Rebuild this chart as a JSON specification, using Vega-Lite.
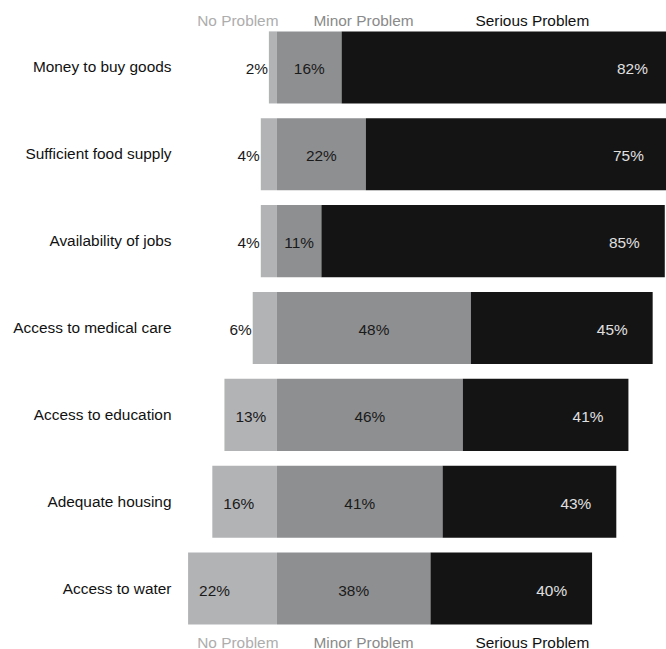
{
  "$schema": "https://vega.github.io/schema/vega-lite/v6.json",
  "autosize": "none",
  "width": 486,
  "height": 608,
  "padding": {"left": 180, "top": 24, "right": 0, "bottom": 17},
  "background": "white",
  "config": {
    "view": {"stroke": null},
    "font": "Liberation Sans",
    "text": {"font": "Liberation Sans", "fontSize": 15.4}
  },
  "data": {
    "values": [
      {"q": "Money to buy goods", "cat": "No Problem", "pct": 2},
      {"q": "Money to buy goods", "cat": "Minor Problem", "pct": 16},
      {"q": "Money to buy goods", "cat": "Serious Problem", "pct": 82},
      {"q": "Sufficient food supply", "cat": "No Problem", "pct": 4},
      {"q": "Sufficient food supply", "cat": "Minor Problem", "pct": 22},
      {"q": "Sufficient food supply", "cat": "Serious Problem", "pct": 75},
      {"q": "Availability of jobs", "cat": "No Problem", "pct": 4},
      {"q": "Availability of jobs", "cat": "Minor Problem", "pct": 11},
      {"q": "Availability of jobs", "cat": "Serious Problem", "pct": 85},
      {"q": "Access to medical care", "cat": "No Problem", "pct": 6},
      {"q": "Access to medical care", "cat": "Minor Problem", "pct": 48},
      {"q": "Access to medical care", "cat": "Serious Problem", "pct": 45},
      {"q": "Access to education", "cat": "No Problem", "pct": 13},
      {"q": "Access to education", "cat": "Minor Problem", "pct": 46},
      {"q": "Access to education", "cat": "Serious Problem", "pct": 41},
      {"q": "Adequate housing", "cat": "No Problem", "pct": 16},
      {"q": "Adequate housing", "cat": "Minor Problem", "pct": 41},
      {"q": "Adequate housing", "cat": "Serious Problem", "pct": 43},
      {"q": "Access to water", "cat": "No Problem", "pct": 22},
      {"q": "Access to water", "cat": "Minor Problem", "pct": 38},
      {"q": "Access to water", "cat": "Serious Problem", "pct": 40}
    ]
  },
  "transform": [
    {"calculate": "datum.cat === 'No Problem' ? 0 : datum.cat === 'Minor Problem' ? 1 : 2", "as": "ord"},
    {"calculate": "datum.cat === 'No Problem' ? datum.pct : 0", "as": "noPart"},
    {"joinaggregate": [{"op": "sum", "field": "noPart", "as": "noPct"}], "groupby": ["q"]},
    {"stack": "pct", "groupby": ["q"], "sort": [{"field": "ord", "order": "ascending"}], "as": ["s0", "s1"]},
    {"calculate": "datum.s0 - datum.noPct", "as": "x0"},
    {"calculate": "datum.s1 - datum.noPct", "as": "x1"},
    {"calculate": "(datum.x0 + datum.x1) / 2", "as": "xm"},
    {"calculate": "datum.pct + '%'", "as": "lbl"}
  ],
  "encoding": {
    "y": {
      "field": "q",
      "type": "nominal",
      "sort": null,
      "scale": {"paddingInner": 0.17, "paddingOuter": 0.085},
      "axis": {
        "title": null,
        "ticks": false,
        "tickSize": 0,
        "domain": false,
        "grid": false,
        "labelPadding": 9,
        "labelFont": "Liberation Sans",
        "labelFontSize": 15.4,
        "labelColor": "#111111",
        "labelLimit": 200
      }
    }
  },
  "layer": [
    {
      "mark": {"type": "bar", "clip": true},
      "encoding": {
        "x": {
          "field": "x0",
          "type": "quantitative",
          "scale": {"domain": [-24, 96.3], "nice": false, "zero": false},
          "axis": {
            "orient": "top",
            "title": null,
            "values": [-9.8, 21.3, 63.1],
            "labelExpr": "datum.value < 0 ? 'No Problem' : datum.value < 40 ? 'Minor Problem' : 'Serious Problem'",
            "ticks": false,
            "domain": false,
            "grid": false,
            "labelPadding": -1,
            "labelBaseline": "alphabetic",
            "labelFont": "Liberation Sans",
            "labelFontSize": 15.4,
            "labelFlush": false,
            "labelOverlap": false,
            "labelColor": {
              "condition": [
                {"test": "datum.value < 0", "value": "#adadad"},
                {"test": "datum.value < 40", "value": "#8a8a8a"}
              ],
              "value": "#111111"
            }
          }
        },
        "x2": {"field": "x1"},
        "color": {
          "field": "cat",
          "type": "nominal",
          "scale": {
            "domain": ["No Problem", "Minor Problem", "Serious Problem"],
            "range": ["#b2b3b5", "#8e8f91", "#141414"]
          },
          "legend": null
        }
      }
    },
    {
      "transform": [{"filter": "datum.cat === 'No Problem' && datum.pct < 10"}],
      "mark": {"type": "text", "align": "right", "baseline": "middle", "dx": -1, "dy": 2, "color": "#1a1a1a"},
      "encoding": {
        "x": {
          "field": "x0",
          "type": "quantitative",
          "axis": {
            "orient": "bottom",
            "title": null,
            "values": [-9.8, 21.3, 63.1],
            "labelExpr": "datum.value < 0 ? 'No Problem' : datum.value < 40 ? 'Minor Problem' : 'Serious Problem'",
            "ticks": false,
            "domain": false,
            "grid": false,
            "labelPadding": 3,
            "labelBaseline": "top",
            "labelFont": "Liberation Sans",
            "labelFontSize": 15.4,
            "labelFlush": false,
            "labelOverlap": false,
            "labelColor": {
              "condition": [
                {"test": "datum.value < 0", "value": "#adadad"},
                {"test": "datum.value < 40", "value": "#8a8a8a"}
              ],
              "value": "#111111"
            }
          }
        },
        "text": {"field": "lbl"}
      }
    },
    {
      "transform": [{"filter": "datum.cat === 'No Problem' && datum.pct >= 10"}],
      "mark": {"type": "text", "align": "left", "baseline": "middle", "dx": 11, "dy": 2, "color": "#1a1a1a"},
      "encoding": {
        "x": {"field": "x0", "type": "quantitative", "axis": null},
        "text": {"field": "lbl"}
      }
    },
    {
      "transform": [{"filter": "datum.cat === 'Minor Problem'"}],
      "mark": {"type": "text", "align": "center", "baseline": "middle", "dy": 2, "color": "#1a1a1a"},
      "encoding": {
        "x": {"field": "xm", "type": "quantitative", "axis": null},
        "text": {"field": "lbl"}
      }
    },
    {
      "transform": [{"filter": "datum.cat === 'Serious Problem'"}],
      "mark": {"type": "text", "align": "right", "baseline": "middle", "dx": -25, "dy": 2, "color": "#e0e0e0"},
      "encoding": {
        "x": {"field": "x1", "type": "quantitative", "axis": null},
        "text": {"field": "lbl"}
      }
    }
  ],
  "resolve": {"axis": {"x": "independent"}}
}
